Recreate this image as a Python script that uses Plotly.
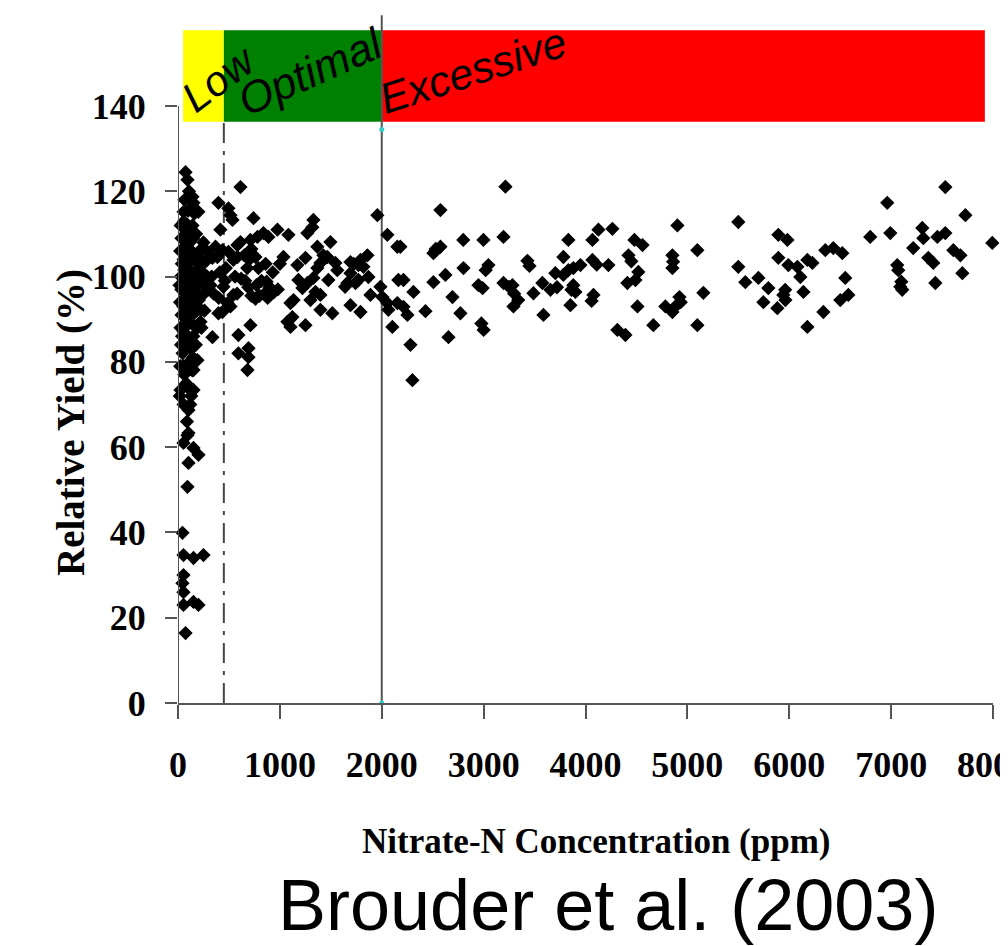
import plotly.graph_objects as go

# ---------------- data ----------------
column_pts = [
    (18,72),(22,79),(30,84),(25,88),(35,91),(20,94),(32,97),(28,100),(38,103),(22,106),(34,109),(26,112),(40,86),(15,98),(45,82),
    (55,70),(62,77),(70,83),(58,87),(75,90),(52,93),(68,96),(60,99),(78,102),(55,104),(66,107),(72,110),(58,113),(64,118),(80,75),(50,79),(74,94.5),(62,101.5),
    (88,66),(95,74),(110,80),(92,85),(104,89),(118,92),(86,95),(100,98),(112,100.5),(90,103),(106,105.5),(115,108),(96,111),(108,120),(100,84),(115,96.5),(88,91),
    (130,72),(140,78),(128,83),(150,86),(135,89),(160,91.5),(145,94),(130,97),(155,99),(138,101),(162,104),(132,106),(150,109),(142,112),(128,100),(158,95.5),(148,81),
    (175,84),(190,88),(180,92),(205,95.5),(185,98),(170,101),(195,103),(210,106),(178,110),(200,100.5),(188,96),
    (230,88),(255,96),(240,101),(270,103.5),(225,98.5),(260,92),(285,100),
    (74,124.5),(93,122.7),(142,118.7),(152,117.3),(55,115.2),(100,115.5),(160,114.8),(200,115.2),
    (220,104),(250,108),(280,106),(300,104.5),(319,98),(300,97),(221,89.4),(225,92.2),(205,94.5),
    (191,80.4),(152,78.1),(152,73.4),(103,68.7),(120,70),(93,62.8),(25,73.4),
]

low_pts = [
    (103,63.3),(54,61),(152,59.8),(201,58.2),(103,56.3),(93,50.7),(44,39.9),(54,34.7),(152,34),(250,34.7),
    (54,30),(44,28.1),(54,26),(54,23),(152,23.7),(201,23),(74,16.4),
]

optimal_pts = [
    (397,117.3),(495,116),(515,114.4),(535,113.3),(416,111),(613,121),(741,113.7),(613,108.1),(583,107.4),(711,108.6),
    (780,109.3),(839,110.2),(888,109.3),(976,111),(1084,109.8),(1270,110.2),(1329,113.3),(1319,111.6),(1496,108.1),(1368,107),
    (1427,105),(1957,114.4),(368,107),(436,106.2),(495,105.8),(338,104.4),(387,104.6),(544,103.9),(583,104.6),
    (650,105),(680,102),(700,104),(660,99),(690,97.5),(720,95.5),(760,94.8),(800,95.5),(850,96),(880,95),(770,98),(820,99),
    (870,98.8),(900,97.5),(940,96.3),(980,97),(790,102),(760,104.6),(720,106.5),(860,103),(930,101),(1000,103),
    (1035,104.6),(1172,102.7),(1251,104.4),(1182,99.2),(1221,97.3),(1270,98.5),(1329,99.7),(1368,102),(1398,103.2),(1466,104.6),
    (1545,103.2),(1564,101.5),(1398,95.7),(1349,96.4),(1300,94.5),(1104,93.8),(1134,94.5),(1074,89.4),(1123,90.5),(1104,88.2),
    (1251,88.6),(1398,92.2),(1515,91.4),(1476,99.2),(1693,103.4),(1725,103),(1771,102.7),(1791,103.9),(1820,102.3),(1693,100.8),
    (1742,98.5),(1771,99.2),(1859,105),(1869,99.9),(1889,95.7),(1693,93.3),(1791,91.7),(1663,98.5),(1640,97.6),(1987,97.6),
    (446,97.6),(460,99),(486,93.8),(515,93),(436,91.7),(397,91.4),(544,95.7),(338,85.8),
    (593,86.3),(711,88.6),(593,82),(692,83.2),(692,81.1),(682,78.1),
    (330,100),(410,101),(470,102),(560,100),(620,99.5),(580,96),(400,95),(350,96),
]

excessive_pts = [
    (2006,95.2),(2055,93.8),(2065,92.2),(2163,99.2),(2153,93.8),(2104,88.2),(2055,109.8),(2153,107),(2507,105.5),(2530,106.5),
    (3214,121.1),(2576,115.6),(2527,106),(2576,107),(2800,108.6),(2998,108.6),(3195,109.3),(2183,107),(2213,99.2),(2311,96.4),
    (2213,92.9),(2252,91),(2429,91.9),(2282,84),(2301,75.7),(2507,98.7),(2625,100.4),(2694,95.2),(2772,91.4),(2655,85.8),
    (2802,102),(2949,98),(2990,97.3),(3047,102.7),(3020,101.5),(2978,89),(3000,87.5),(3195,98.5),(3250,97.6),(3283,98),
    (3300,96),(3293,93),(3340,94.5),(3430,103.7),(3450,102.5),(3489,96.1),(3577,98.5),(3587,91),(3656,96.9),(3720,97.5),
    (3704,100.8),(3783,100.4),(3832,101.5),(3881,102),(3950,102.7),(3783,104.6),(3832,108.6),(3862,96.9),(3901,96.4),(3880,98),
    (3852,93.3),(4068,103.9),(4110,102.8),(4068,108.6),(4127,111),(4264,111.2),(4078,95.7),(4060,94.3),(4225,102.7),(4313,87.5),
    (4392,86.3),(4422,105),(4450,103.6),(4480,108.6),(4560,107.4),(4519,101.1),(4490,99.2),(4411,98.5),(4510,93),(4666,88.6),
    (4784,93),(4902,112),(4853,105),(4860,103.5),(4853,102),(4922,95.2),(4935,94),(4883,93),(4853,91.7),(5098,106.2),(5098,88.6),
    (5157,96.2),(5500,112.8),(5500,102.3),(5569,98.7),(5697,99.7),(5795,97.3),(5746,94),(5883,92.6),(5893,109.8),(5982,108.6),
    (5893,104.4),(5991,102.7),(6080,102.3),(6109,99.9),(6139,96.4),(5942,95.7),(5960,96.9),(5962,94.5),(6178,103.9),(6227,103.2),
    (6178,88.2),(6335,91.7),(6354,106.2),(6433,106.7),(6521,105.5),(6550,99.7),(6501,94.5),(6580,95.7),(6795,109.3),(6962,117.3),
    (6992,110.2),(7060,102.7),(7070,101.5),(7090,97.6),(7109,96.9),(7100,98.8),(7217,106.7),(7306,111.4),(7316,109),(7365,104.4),
    (7414,103.2),(7434,98.5),(7454,109.3),(7532,110.2),(7532,121),(7611,106.2),(7680,105),(7699,100.8),(7729,114.4),(7993,107.9),
]

zone_names = ["Low", "Optimal", "Excessive"]
zone_edges = [50, 450, 2000, 7920]
zone_colors = ["#FFFF00", "#008000", "#FF0000"]
zone_band = [136.3, 157.8]
zone_label_x = [400, 1300, 2900]
zone_label_y = [146.5, 148.0, 148.5]
zone_label_angle = [-37, -24, -18]
zone_label_size = [42, 44, 43]

low_limit = 450
excess_limit = 2000
x_ticks = [0, 1000, 2000, 3000, 4000, 5000, 6000, 7000, 8000]
y_ticks = [0, 20, 40, 60, 80, 100, 120, 140]

# ---------------- figure ----------------
all_pts = column_pts + low_pts + optimal_pts + excessive_pts
xs = [p[0] for p in all_pts]
ys = [p[1] for p in all_pts]

fig = go.Figure()

# zone boundary lines
fig.add_trace(go.Scatter(x=[low_limit, low_limit], y=[0, zone_band[0]], mode="lines",
                         line=dict(color="#444444", width=2, dash="20px,8px,4px,8px"),
                         hoverinfo="skip", showlegend=False, cliponaxis=False))
fig.add_trace(go.Scatter(x=[excess_limit, excess_limit], y=[0, 161.3], mode="lines",
                         line=dict(color="#555555", width=2),
                         hoverinfo="skip", showlegend=False, cliponaxis=False))
fig.add_trace(go.Scatter(x=[excess_limit, excess_limit], y=[0, 134.5], mode="markers",
                         marker=dict(color="#33cccc", size=5),
                         hoverinfo="skip", showlegend=False, cliponaxis=False))

# data
fig.add_trace(go.Scatter(x=xs, y=ys, mode="markers",
                         marker=dict(symbol="diamond", size=11, color="black"),
                         showlegend=False, cliponaxis=False))

shapes = []
for i in range(3):
    shapes.append(dict(type="rect", xref="x", yref="y", layer="below",
                       x0=zone_edges[i], x1=zone_edges[i + 1], y0=zone_band[0], y1=zone_band[1],
                       fillcolor=zone_colors[i], line=dict(width=0)))
shapes.append(dict(type="line", xref="x", yref="y", x0=0, x1=0, y0=0, y1=140,
                   line=dict(color="#555555", width=2)))

annotations = []
for i in range(3):
    annotations.append(dict(x=zone_label_x[i], y=zone_label_y[i], xref="x", yref="y",
                            text=zone_names[i], showarrow=False, textangle=zone_label_angle[i],
                            xanchor="center", yanchor="middle",
                            font=dict(family="Liberation Sans, Arial, sans-serif",
                                      size=zone_label_size[i], color="black", style="italic")))
annotations.append(dict(x=-0.1313, y=0.4085, xref="paper", yref="paper",
                        text="Relative Yield (%)", showarrow=False, textangle=-90,
                        xanchor="center", yanchor="middle",
                        font=dict(family="Liberation Serif, Times New Roman, serif", size=39,
                                  color="black", weight="bold")))
annotations.append(dict(x=0.514, y=-0.202, xref="paper", yref="paper",
                        text="Nitrate-N Concentration (ppm)", showarrow=False,
                        xanchor="center", yanchor="middle",
                        font=dict(family="Liberation Serif, Times New Roman, serif", size=35,
                                  color="black", weight="bold")))
annotations.append(dict(x=0.5276, y=-0.294, xref="paper", yref="paper",
                        text="Brouder et al. (2003)", showarrow=False,
                        xanchor="center", yanchor="middle",
                        font=dict(family="Liberation Sans, Arial, sans-serif", size=72, color="black")))

tickfont = dict(family="Liberation Serif, Times New Roman, serif", size=36, color="black", weight="bold")

# the page adds an 8px body margin, so the figure is drawn 8px in from the window corner
fig.update_layout(
    width=1000, height=938,
    margin=dict(l=170, r=15, t=7, b=243, pad=0),
    paper_bgcolor="white", plot_bgcolor="white",
    shapes=shapes, annotations=annotations,
    xaxis=dict(range=[0, 8000], tickvals=x_ticks, ticktext=[str(v) for v in x_ticks],
               ticks="outside", ticklen=14, tickwidth=2, tickcolor="#555555",
               showline=True, linecolor="#555555", linewidth=2, automargin=False,
               ticklabeloverflow="allow",
               showgrid=False, zeroline=False, tickfont=tickfont, ticklabelstandoff=15),
    yaxis=dict(range=[0, 161.35], tickvals=y_ticks, ticktext=[str(v) for v in y_ticks],
               ticks="outside", ticklen=12, tickwidth=2, tickcolor="#555555",
               showline=False, showgrid=False, zeroline=False, tickfont=tickfont,
               automargin=False, ticklabelstandoff=12),
)

fig.write_html("out.html")
